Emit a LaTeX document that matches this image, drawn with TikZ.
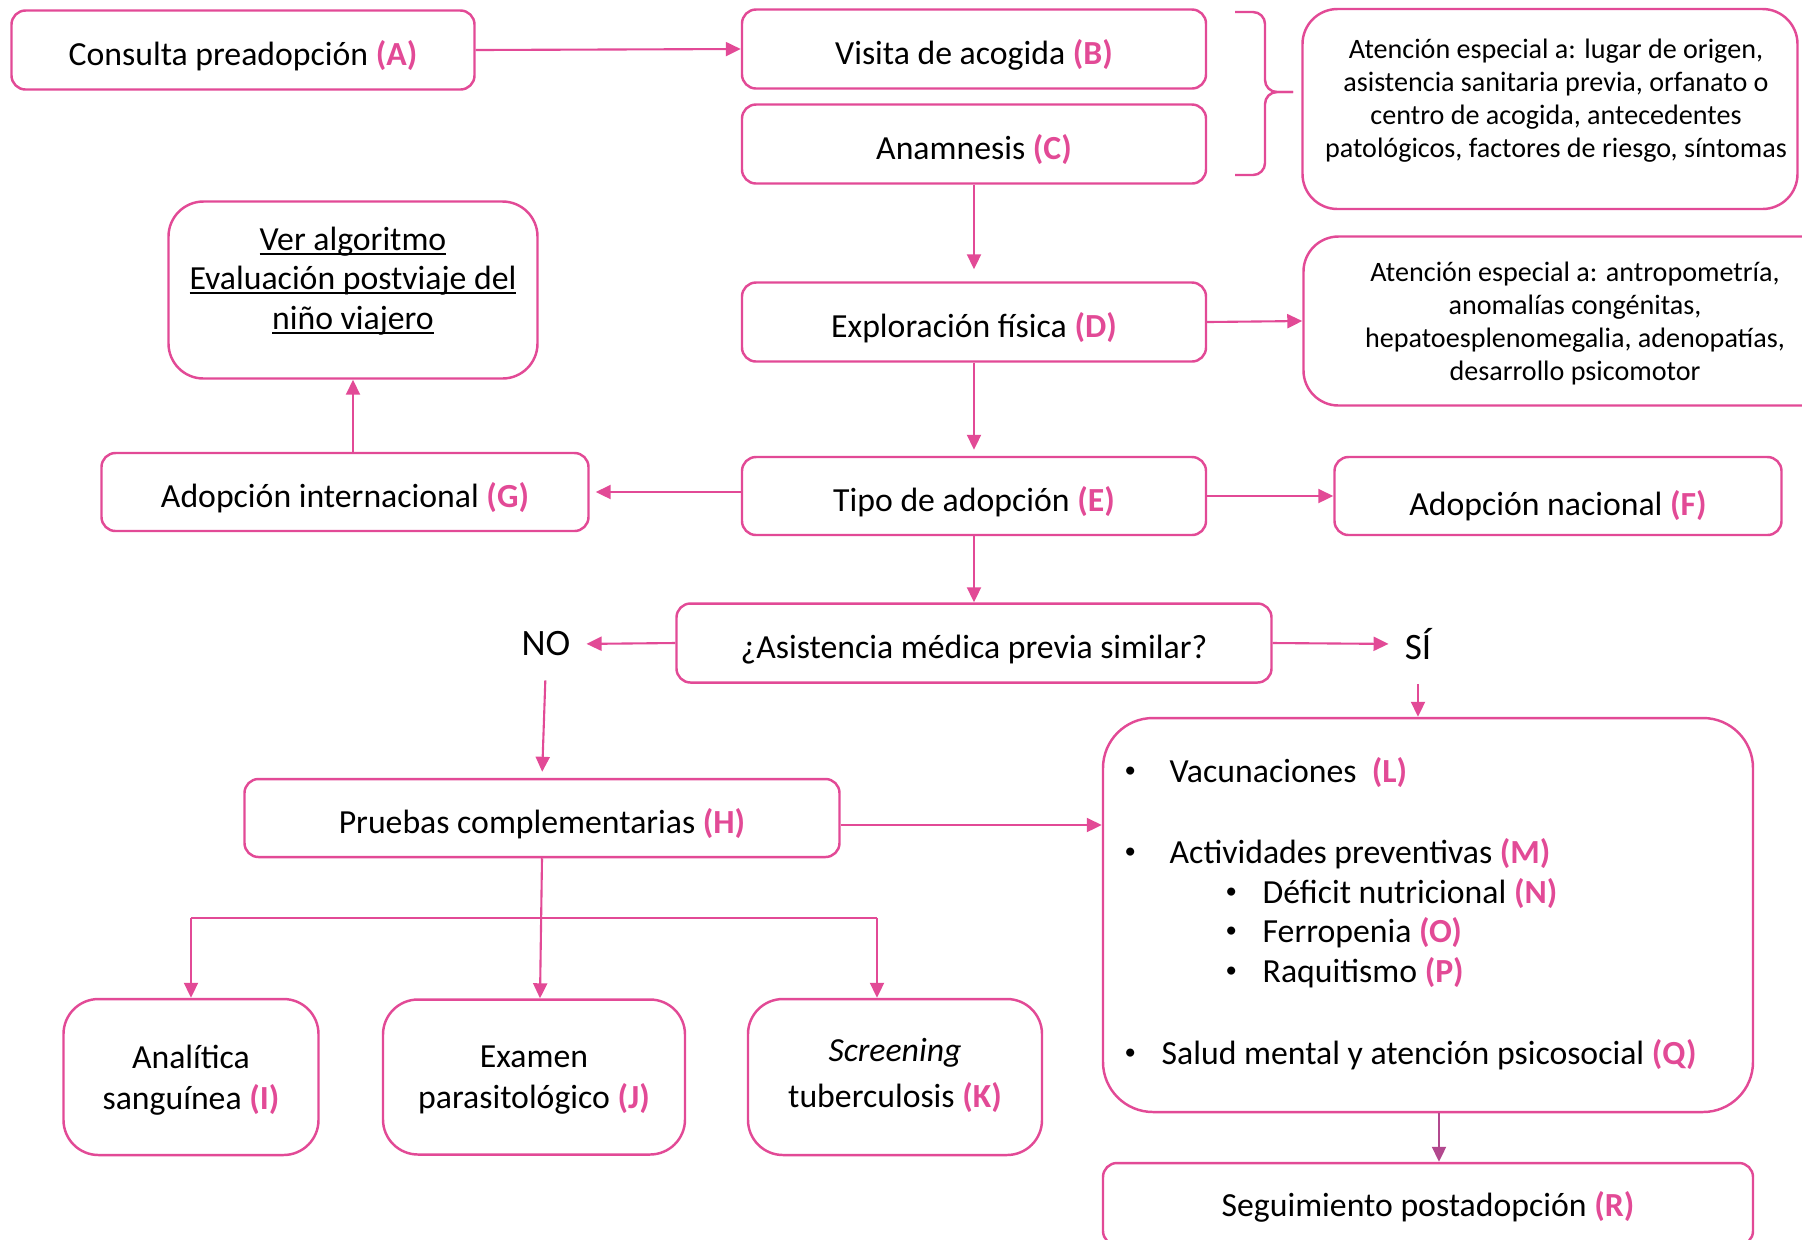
\documentclass[tikz,border=0pt]{standalone}
\usepackage{fontspec}
\setmainfont{Carlito}
\usetikzlibrary{arrows.meta}

\definecolor{rosa}{RGB}{226,74,150}
\definecolor{rosaosc}{RGB}{178,72,142}
\newcommand{\lbl}[1]{\textcolor{rosa}{\textbf{(#1)}}}
\newcommand{\vinyeta}{\raisebox{0.35ex}{\fontsize{6.5}{6.5}\selectfont\textbullet}}
\newcommand{\subr}[1]{\setbox0\hbox{#1}\rlap{\rule[-0.28ex]{\wd0}{0.5pt}}\box0}

\tikzset{
  marco/.style={draw=rosa, line width=0.7pt, align=center, inner sep=0pt},
  caja/.style={marco, rounded corners=1.4mm, text height=3.0mm, text depth=0pt,
    font=\fontsize{9.6}{11.5}\selectfont},
  nota/.style={marco, rounded corners=3.5mm, text depth=0pt, font=\fontsize{8}{9.4}\selectfont},
  flecha/.style={draw=rosa, line width=0.6pt, -{Triangle[length=1.5mm,width=1.4mm]}},
  punto/.style={anchor=west, inner sep=0pt, font=\fontsize{9.6}{11}\selectfont},
}

\begin{document}
\begin{tikzpicture}[x=0.1mm,y=-0.1mm]
  \useasboundingbox (0,0) rectangle (1802,1239);

  %%%% top row
  \node[caja, minimum width=46.3mm, minimum height=7.9mm] (A) at (243,50)
    {Consulta preadopción \lbl{A}};
  \node[caja, minimum width=46.4mm, minimum height=7.9mm] (B) at (974,49)
    {Visita de acogida \lbl{B}};
  \node[caja, minimum width=46.4mm, minimum height=7.9mm] (C) at (974,144)
    {Anamnesis \lbl{C}};
  \node[nota, text depth=2.2mm, minimum width=49.5mm, minimum height=20mm] (at1) at (1550,109)
    {\hspace*{1.2mm}Atención especial a: lugar de origen,\\\hspace*{1.2mm}asistencia sanitaria previa, orfanato o\\
     \hspace*{1.2mm}centro de acogida, antecedentes\\\hspace*{1.2mm}patológicos, factores de riesgo, síntomas};

  % brace
  \draw[rosa, line width=0.7pt, rounded corners=1.2mm]
    (1235,12) -- (1265,12) -- (1265,92) -- (1293,92);
  \draw[rosa, line width=0.7pt, rounded corners=1.2mm]
    (1293,92) -- (1265,92) -- (1265,175) -- (1235,175);

  %%%% second block
  \node[nota, font=\fontsize{9.6}{11.3}\selectfont, text depth=2.4mm, minimum width=36.9mm, minimum height=17.7mm] (ver) at (353,290)
    {\subr{Ver algoritmo}\\\subr{Evaluación postviaje del}\\\subr{niño viajero}};
  \node[caja, minimum width=46.4mm, minimum height=7.9mm] (D) at (974,322)
    {Exploración física \lbl{D}};
  \node[nota, minimum width=54.3mm, minimum height=16.9mm] (at2) at (1575,321)
    {Atención especial a: antropometría,\\anomalías congénitas,\\
     hepatoesplenomegalia, adenopatías,\\desarrollo psicomotor};

  \node[caja, minimum width=48.7mm, minimum height=7.8mm] (G) at (345,492)
    {Adopción internacional \lbl{G}};
  \node[caja, minimum width=46.4mm, minimum height=7.8mm] (E) at (974,496)
    {Tipo de adopción \lbl{E}};
  \node[caja, text height=3.8mm, minimum width=44.7mm, minimum height=7.8mm] (F) at (1558,496)
    {Adopción nacional \lbl{F}};

  %%%% question
  \node[caja, minimum width=59.5mm, minimum height=7.9mm] (Q) at (974,643)
    {¿Asistencia médica previa similar?};
  \node[font=\fontsize{10.6}{12}\selectfont, inner sep=1pt] (no) at (546,644) {NO};
  \node[font=\fontsize{10.6}{12}\selectfont, inner sep=1pt] (si) at (1418,644) {SÍ};

  \node[caja, minimum width=59.5mm, minimum height=7.8mm] (H) at (542,818)
    {Pruebas complementarias \lbl{H}};
  \node[marco, rounded corners=5mm, minimum width=65mm, minimum height=39.4mm] (big) at (1428,915) {};

  \node[punto] (itL) at (1124,773) {\makebox[4.5mm][l]{\vinyeta}Vacunaciones \ \lbl{L}};
  \node[punto] (itM) at (1124,854) {\makebox[4.5mm][l]{\vinyeta}Actividades preventivas \lbl{M}};
  \node[punto] (itN) at (1225,894) {\makebox[3.7mm][l]{\vinyeta}Déficit nutricional \lbl{N}};
  \node[punto] (itO) at (1225,933) {\makebox[3.7mm][l]{\vinyeta}Ferropenia \lbl{O}};
  \node[punto] (itP) at (1225,973) {\makebox[3.7mm][l]{\vinyeta}Raquitismo \lbl{P}};
  \node[punto] (itQ) at (1124,1055) {\makebox[3.7mm][l]{\vinyeta}Salud mental y atención psicosocial \lbl{Q}};

  \node[caja, text height=2.5mm, minimum width=65mm, minimum height=8.2mm] (R) at (1428,1204)
    {Seguimiento postadopción \lbl{R}};

  %%%% bottom row
  \node[nota, font=\fontsize{9.6}{11.8}\selectfont, minimum width=25.5mm, minimum height=15.6mm] (I) at (191,1077)
    {Analítica\\sanguínea \lbl{I}};
  \node[nota, font=\fontsize{9.6}{11.8}\selectfont, minimum width=30.2mm, minimum height=15.5mm] (J) at (534,1077)
    {Examen\\parasitológico \lbl{J}};
  \node[nota, font=\fontsize{9.6}{13}\selectfont, text depth=0.8mm, minimum width=29.4mm, minimum height=15.6mm] (K) at (895,1077)
    {\textit{Screening}\\tuberculosis \lbl{K}};

  %%%% connectors
  \draw[flecha] (A.east) -- (B.west);
  \draw[flecha, shorten >=1.2mm] (C.south) -- (D.north);
  \draw[flecha] (D.east) -- (at2.west);
  \draw[flecha, shorten >=0.6mm] (D.south) -- (E.north);
  \draw[flecha, shorten >=0.6mm] (E.west |- G.east) -- (G.east);
  \draw[flecha] (E.east) -- (F.west);
  \draw[flecha] (ver.south |- G.north) -- (ver.south);
  \draw[flecha] (E.south) -- (Q.north);
  \draw[flecha, shorten >=1.2mm] (Q.west) -- (no.east);
  \draw[flecha, shorten >=1.2mm] (Q.east) -- (si.west);
  \draw[flecha, shorten <=2mm, shorten >=0.6mm] (no.south) -- (H.north);
  \draw[flecha, shorten <=2mm] (si.south) -- (si.south |- big.north);
  \coordinate (hH) at (0,825);
  \draw[flecha] (hH -| H.east) -- (hH -| big.west);
  \coordinate (bR) at (1439,0);
  \draw[flecha, rosaosc] (bR |- big.south) -- (bR |- R.north);

  \coordinate (hb) at (0,918);
  \coordinate (hJ) at (540,0);
  \coordinate (hK) at (877,0);
  \draw[flecha] (H.south) -- (hJ |- J.north);
  \draw[rosa, line width=0.6pt] (hb -| I.north) -- (hb -| hK);
  \draw[flecha] (hb -| I.north) -- (I.north);
  \draw[flecha] (hb -| hK) -- (hK |- K.north);
\end{tikzpicture}
\end{document}
